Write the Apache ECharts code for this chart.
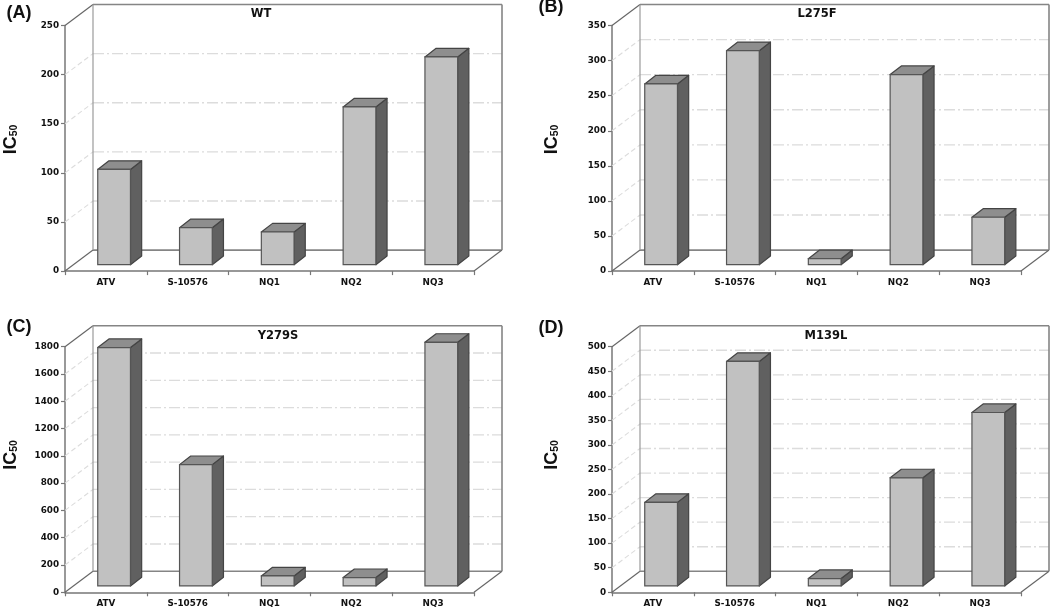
<!DOCTYPE html>
<html>
<head>
<meta charset="utf-8">
<title>IC50</title>
<style>
  html, body { margin: 0; padding: 0; background: #fff; }
  #chart { width: 1050px; height: 609px; }
</style>
</head>
<body>
<div id="chart"></div>
<script src="https://cdn.jsdelivr.net/npm/echarts@6/dist/echarts.min.js"></script>
<script>
const categories = ["ATV", "S-10576", "NQ1", "NQ2", "NQ3"];

// values
const wtValues = [97, 37.7, 33.3, 160.6, 211.5];
const l275fValues = [257.6, 305, 8.6, 271, 67.6];
const y279sValues = [1747, 889, 73, 61, 1785];
const m139lValues = [170, 457, 15, 220, 353];

const wtTicks = [0, 50, 100, 150, 200, 250];
const l275fTicks = [0, 50, 100, 150, 200, 250, 300, 350];
const y279sTicks = [0, 200, 400, 600, 800, 1000, 1200, 1400, 1600, 1800];
const m139lTicks = [0, 50, 100, 150, 200, 250, 300, 350, 400, 450, 500];

const panelLetters = ["(A)", "(B)", "(C)", "(D)"];
const panelTitles = ["WT", "L275F", "Y279S", "M139L"];

const LABEL_FONT = "DejaVu Sans";
const HEAD_FONT = "Liberation Sans";

// depth of the fake 3D box, px
const WALL_DX = 28;
const WALL_DY = -21;
const BAR_SHIFT_X = 8.2;
const BAR_SHIFT_Y = -6.4;
const BAR_DX = 11.2;
const BAR_DY = -8.6;

const panels = [
  { values: wtValues, ticks: wtTicks, left: 65, top: 25.5, letter: [19, 13], title: [261, 8.5], ic: [9, 139.5] },
  { values: l275fValues, ticks: l275fTicks, left: 612, top: 25.5, letter: [551, 7], title: [817, 8.5], ic: [550, 139.5] },
  { values: y279sValues, ticks: y279sTicks, left: 65, top: 346.7, letter: [19, 327], title: [278, 330], ic: [9, 455] },
  { values: m139lValues, ticks: m139lTicks, left: 612, top: 346.7, letter: [551, 328], title: [826, 330], ic: [550, 455] }
];
const PLOT_W = 409;
const PLOT_H = 245.6;

// back wall, floor and dashed grid, one data row per tick
const renderWalls = (ticks) => (params, api) => {
  const sys = params.coordSys;
  const tick = api.value(1);
  const y = api.coord([0, tick])[1];
  const x0 = sys.x;
  const x1 = sys.x + sys.width;
  const backL = x0 + WALL_DX;
  const backR = x1 + WALL_DX;
  const backY = y + WALL_DY;
  const frame = { stroke: "#858585", lineWidth: 1.6 };
  const seg = (a, b, c, d, style) => ({
    type: "line",
    shape: { x1: a, y1: b, x2: c, y2: d },
    style: style
  });
  const children = [];
  if (tick === 0) {
    children.push(seg(backL, backY, backR, backY, frame));
    children.push(seg(x0, y, backL, backY, { stroke: "#666", lineWidth: 1.2 }));
    children.push(seg(x1, y, backR, backY, { stroke: "#666", lineWidth: 1.2 }));
  } else if (tick === ticks[ticks.length - 1]) {
    children.push(seg(backL, backY, backR, backY, frame));
    children.push(seg(x0, y, backL, backY, { stroke: "#666", lineWidth: 1.2 }));
    children.push(seg(backL, backY, backL, sys.y + sys.height + WALL_DY, { stroke: "#9a9a9a", lineWidth: 1.2 }));
    children.push(seg(backR, backY, backR, sys.y + sys.height + WALL_DY, frame));
  } else {
    const grid = { stroke: "#dcdcdc", lineWidth: 1.3, lineDash: [11, 3, 2, 3] };
    children.push(seg(x0, y, backL, backY, { stroke: "#dcdcdc", lineWidth: 1.1, lineDash: [5, 3] }));
    children.push(seg(backL, backY, backR, backY, grid));
  }
  return { type: "group", children: children };
};

const renderBar = (params, api) => {
  const idx = api.value(0);
  const base = api.coord([idx, 0]);
  const top = api.coord([idx, api.value(1)]);
  const band = api.size([1, 0])[0];
  const w = band * 0.4;
  const l = base[0] - w / 2 + BAR_SHIFT_X;
  const r = l + w;
  const b = base[1] + BAR_SHIFT_Y;
  const t = top[1] + BAR_SHIFT_Y;
  const edge = { stroke: "#444", lineWidth: 1.2, lineJoin: "round" };
  return {
    type: "group",
    children: [
      {
        type: "polygon",
        shape: { points: [[r, t], [r + BAR_DX, t + BAR_DY], [r + BAR_DX, b + BAR_DY], [r, b]] },
        style: { fill: "#606060", ...edge }
      },
      {
        type: "polygon",
        shape: { points: [[l, t], [l + BAR_DX, t + BAR_DY], [r + BAR_DX, t + BAR_DY], [r, t]] },
        style: { fill: "#8e8e8e", ...edge }
      },
      {
        type: "rect",
        shape: { x: l, y: t, width: w, height: b - t },
        style: { fill: "#c1c1c1", stroke: "#555", lineWidth: 1.2 }
      }
    ]
  };
};

const chart = echarts.init(document.getElementById("chart"), null, { renderer: "canvas" });

const axisLine = { show: true, lineStyle: { color: "#777", width: 1.5 } };
const tickLine = { color: "#777", width: 1.2 };

chart.setOption({
  animation: false,
  backgroundColor: "#fff",
  title: panels.map((p, i) => ({
    text: panelTitles[i],
    left: p.title[0],
    top: p.title[1],
    textAlign: "center",
    padding: 0,
    textStyle: { fontFamily: LABEL_FONT, fontWeight: "bold", fontSize: 11.5, color: "#111" }
  })),
  grid: panels.map((p) => ({
    left: p.left,
    top: p.top,
    width: PLOT_W,
    height: PLOT_H
  })),
  xAxis: panels.map((p, i) => ({
    type: "category",
    gridIndex: i,
    data: categories,
    boundaryGap: true,
    axisLine: axisLine,
    axisTick: { show: true, alignWithLabel: false, length: 4, lineStyle: tickLine },
    axisLabel: {
      margin: 7,
      interval: 0,
      fontFamily: LABEL_FONT,
      fontWeight: "bold",
      fontSize: 8.8,
      color: "#111"
    },
    splitLine: { show: false }
  })),
  yAxis: panels.map((p, i) => ({
    type: "value",
    gridIndex: i,
    min: p.ticks[0],
    max: p.ticks[p.ticks.length - 1],
    interval: p.ticks[1] - p.ticks[0],
    axisLine: axisLine,
    axisTick: { show: true, length: 4, lineStyle: tickLine },
    axisLabel: {
      margin: 6,
      formatter: (v) => String(v),
      fontFamily: LABEL_FONT,
      fontWeight: "bold",
      fontSize: 8.8,
      color: "#111"
    },
    splitLine: { show: false }
  })),
  series: panels.flatMap((p, i) => [
    {
      type: "custom",
      xAxisIndex: i,
      yAxisIndex: i,
      z: 1,
      silent: true,
      renderItem: renderWalls(p.ticks),
      encode: { x: 0, y: 1 },
      data: p.ticks.map((t) => [0, t])
    },
    {
      type: "custom",
      xAxisIndex: i,
      yAxisIndex: i,
      z: 3,
      silent: true,
      renderItem: renderBar,
      encode: { x: 0, y: 1 },
      data: p.values.map((v, k) => [k, v])
    }
  ]),
  graphic: panels.flatMap((p, i) => [
    {
      type: "text",
      x: p.letter[0],
      y: p.letter[1],
      style: {
        text: panelLetters[i],
        fontFamily: HEAD_FONT,
        fontWeight: "bold",
        fontSize: 18,
        fill: "#111",
        align: "center",
        verticalAlign: "middle"
      }
    },
    {
      type: "text",
      x: p.ic[0],
      y: p.ic[1],
      rotation: Math.PI / 2,
      style: {
        text: "{a|IC}{b|50}",
        align: "center",
        verticalAlign: "middle",
        rich: {
          a: { fontFamily: HEAD_FONT, fontWeight: "bold", fontSize: 18, fill: "#111", lineHeight: 22, verticalAlign: "bottom" },
          b: { fontFamily: HEAD_FONT, fontWeight: "bold", fontSize: 10.5, fill: "#111", lineHeight: 14, verticalAlign: "bottom" }
        }
      }
    }
  ])
});

window.addEventListener("resize", () => chart.resize());
</script>
</body>
</html>
